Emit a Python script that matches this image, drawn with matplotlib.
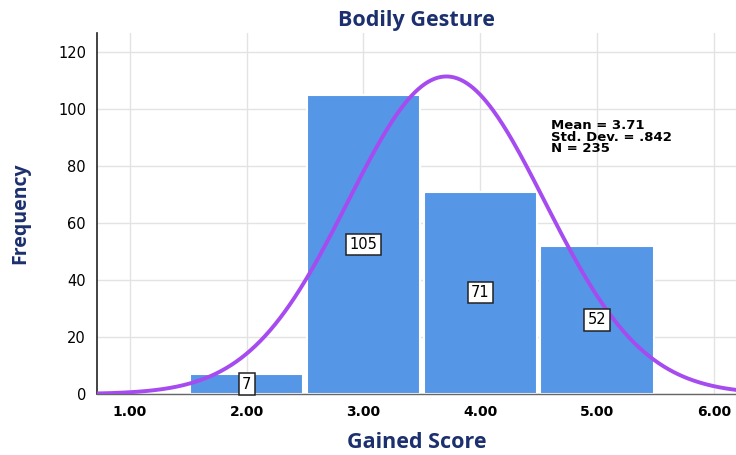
import numpy as np
import matplotlib
matplotlib.use("Agg")
import matplotlib.pyplot as plt

# Histogram of gained scores
bin_centers = [2.0, 3.0, 4.0, 5.0]
frequencies = [7, 105, 71, 52]
x_ticks = [1.0, 2.0, 3.0, 4.0, 5.0, 6.0]
y_ticks = [0, 20, 40, 60, 80, 100, 120]
mean_val = 3.71
std_val = 0.842
n_val = 235

navy = "#1c2f6e"
bar_color = "#5596e6"
curve_color = "#a64bf0"

plt.rcParams["font.family"] = ["Open Sans", "DejaVu Sans"]

fig = plt.figure(figsize=(7.36, 4.55), dpi=100)
ax = fig.add_axes([0.132, 0.134, 0.868, 0.793])

ax.bar(bin_centers, frequencies, width=0.97, color=bar_color,
       edgecolor="white", linewidth=1.5, zorder=2)

# Normal curve scaled to counts (bin width 1)
xs = np.linspace(0.7, 6.3, 400)
pdf = n_val / (std_val * np.sqrt(2 * np.pi)) * np.exp(-0.5 * ((xs - mean_val) / std_val) ** 2)
ax.plot(xs, pdf, color=curve_color, linewidth=2.8, zorder=3)

# Value labels at mid-height of each bar
for xc, f in zip(bin_centers, frequencies):
    ax.text(xc, f / 2, str(f), ha="center", va="center", fontsize=10.5,
            family="DejaVu Sans", zorder=4,
            bbox=dict(boxstyle="square,pad=0.22", facecolor="white",
                      edgecolor="#222222", linewidth=1.1))

ax.text(4.61, 96.5, f"Mean = {mean_val:.2f}\nStd. Dev. = .842\nN = {n_val}",
        ha="left", va="top", fontsize=9.5, fontweight="bold",
        family="DejaVu Sans", linespacing=0.88, zorder=4)

ax.set_xlim(0.72, 6.19)
ax.set_ylim(0, 126.5)
ax.set_xticks(x_ticks)
ax.set_xticklabels([f"{t:.2f}" for t in x_ticks], fontweight="bold", fontsize=10,
                   family="DejaVu Sans")
ax.set_yticks(y_ticks)
ax.set_yticklabels([str(t) for t in y_ticks], fontsize=10.5, family="DejaVu Sans")
ax.tick_params(axis="x", length=0, pad=8)
ax.tick_params(axis="y", length=0, pad=8)

ax.grid(True, color="#e3e3e3", linewidth=1.0, zorder=0)
ax.set_axisbelow(True)
for s in ["top", "right"]:
    ax.spines[s].set_visible(False)
ax.spines["left"].set_color("#222222")
ax.spines["left"].set_linewidth(1.2)
ax.spines["bottom"].set_color("#666666")
ax.spines["bottom"].set_linewidth(1.0)

ax.set_title("Bodily Gesture", fontsize=15.5, fontweight="bold", color=navy, pad=5)
ax.set_xlabel("Gained Score", fontsize=15.5, fontweight="bold", color=navy, labelpad=9)
ax.set_ylabel("Frequency", fontsize=14, fontweight="bold", color=navy, labelpad=20)

fig.savefig("out.png", dpi=100)
